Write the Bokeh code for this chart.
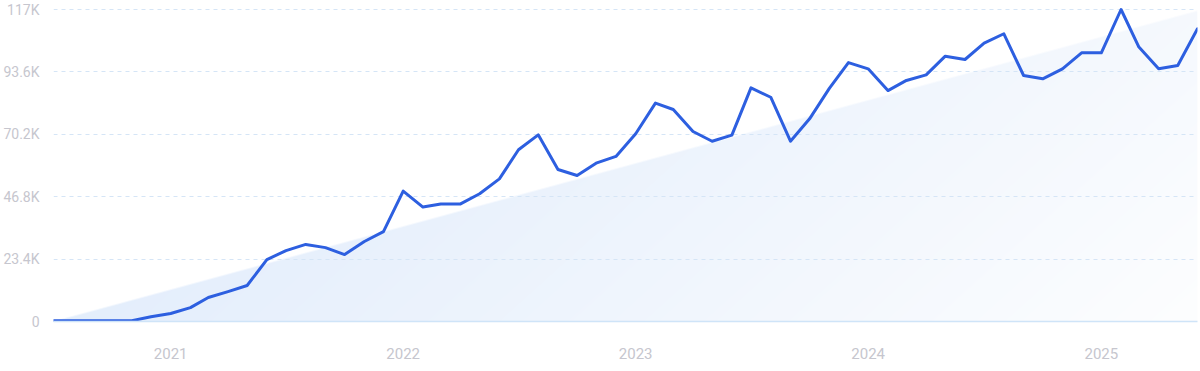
import numpy as np
import pandas as pd
from bokeh.plotting import figure
from bokeh.models import FixedTicker, DatetimeTickFormatter, Range1d
from bokeh.embed import file_html
from bokeh.resources import INLINE

# ---- data ----
start_month = "2020-07-01"
values = [300, 300, 300, 300, 300, 1800, 3000, 5200, 9000, 11200,
          13500, 23200, 26600, 28900, 27700, 25100, 30000, 33700, 48900, 42900,
          44100, 44100, 47900, 53500, 64400, 70000, 57000, 54750, 59500, 61900,
          70400, 81900, 79500, 71250, 67600, 69900, 87600, 84100, 67600, 76000,
          87400, 97100, 94750, 86600, 90400, 92500, 99500, 98250, 104400, 107900,
          92250, 91000, 94750, 100750, 100750, 117000, 102900, 94750, 96000, 109750]
trend = [0, 116500]  # trend-band value at first and last month
y_ticks = [0, 23400, 46800, 70200, 93600, 117000]
y_labels = ["0", "23.4K", "46.8K", "70.2K", "93.6K", "117K"]
year_labels = ["2021", "2022", "2023", "2024", "2025"]

dates = pd.date_range(start_month, periods=len(values), freq="MS")

LINE = "#2d5fe0"
TEXT = "#c6c6ce"
GRID = "#d5e5f6"

y_top = 118125
p = figure(width=1200, height=371, x_axis_type="datetime",
           output_backend="svg", toolbar_location=None,
           min_border_left=53, min_border_right=3,
           min_border_top=6, min_border_bottom=50,
           x_range=Range1d(dates[0], dates[-1]),
           y_range=Range1d(0, y_top))
p.outline_line_color = None
p.background_fill_color = "white"
p.border_fill_color = "white"

# ---- gradient trend band (image through data scales) ----
W, H = 1144, 315
xf = (np.arange(W) + 0.5) / W
yv = (np.arange(H) + 0.5) / H * y_top
X, Y = np.meshgrid(xf, yv)
band = trend[0] + (trend[1] - trend[0]) * X
px_val = y_top / H
alpha = np.clip((band - Y) / px_val + 0.5, 0, 1)
t = np.clip(0.72 * X + 0.22 * (1 - Y / y_top), 0, 1)
A = np.array([220, 233, 251])
B = np.array([255, 255, 255])
rgb = A[None, None, :] + (B - A)[None, None, :] * t[:, :, None]
img = np.zeros((H, W), dtype=np.uint32)
view = img.view(dtype=np.uint8).reshape((H, W, 4))
view[:, :, 0] = rgb[:, :, 0].astype(np.uint8)
view[:, :, 1] = rgb[:, :, 1].astype(np.uint8)
view[:, :, 2] = rgb[:, :, 2].astype(np.uint8)
view[:, :, 3] = (alpha * 255).astype(np.uint8)
dw = (dates[-1] - dates[0]).total_seconds() * 1000
p.image_rgba(image=[img], x=dates[0], y=0, dw=dw, dh=y_top, level="image")

# ---- line ----
p.line(dates, values, line_color=LINE, line_width=3, line_join="round", line_cap="round")

# ---- axes ----
p.yaxis.ticker = FixedTicker(ticks=y_ticks)
p.yaxis.major_label_overrides = {float(v): s for v, s in zip(y_ticks, y_labels)}
p.yaxis.axis_line_color = None
p.yaxis.major_tick_line_color = None
p.yaxis.minor_tick_line_color = None
p.yaxis.major_label_standoff = 8
p.yaxis.major_label_text_color = TEXT
p.yaxis.major_label_text_font = "Roboto"
p.yaxis.major_label_text_font_size = "14px"

year_ticks = [pd.Timestamp(f"{y}-01-01").value // 10**6 for y in year_labels]
p.xaxis.ticker = FixedTicker(ticks=year_ticks)
p.xaxis.formatter = DatetimeTickFormatter(years="%Y", months="%Y", days="%Y",
                                          hours="%Y", minutes="%Y", seconds="%Y",
                                          milliseconds="%Y", microseconds="%Y",
                                          minsec="%Y", hourmin="%Y")
p.xaxis.axis_line_color = "#cfe4f8"
p.xaxis.axis_line_width = 1.5
p.xaxis.major_tick_line_color = None
p.xaxis.minor_tick_line_color = None
p.xaxis.major_label_standoff = 20
p.xaxis.major_label_text_color = TEXT
p.xaxis.major_label_text_font = "Roboto"
p.xaxis.major_label_text_font_size = "15px"

p.xgrid.grid_line_color = None
p.ygrid.ticker = FixedTicker(ticks=y_ticks[1:])
p.ygrid.grid_line_color = GRID
p.ygrid.grid_line_dash = "4 4"
p.ygrid.grid_line_width = 1

open("out.html", "w").write(file_html(p, INLINE))
